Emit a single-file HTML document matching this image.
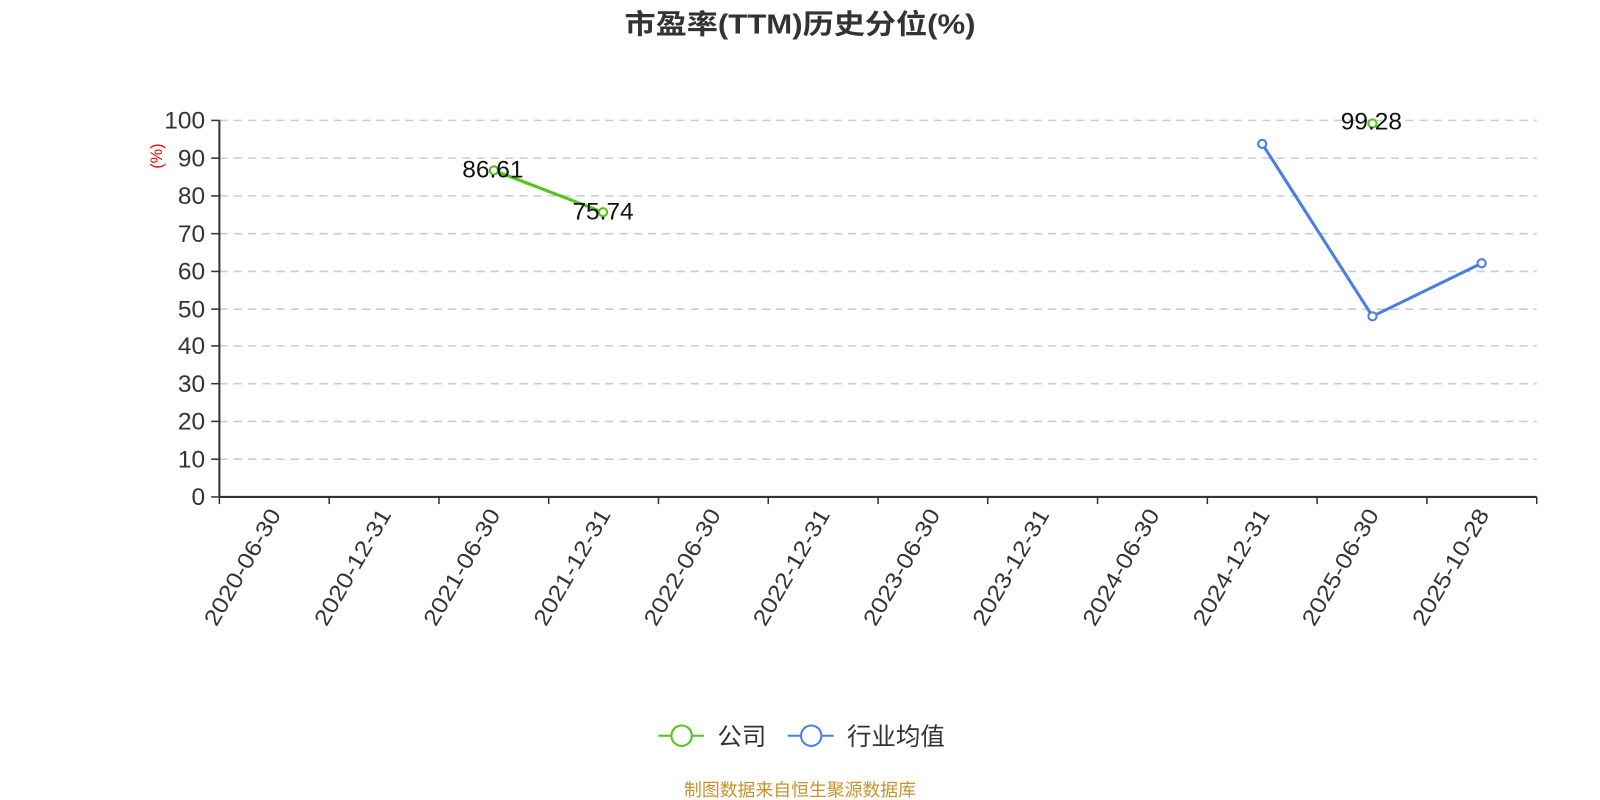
<!DOCTYPE html>
<html><head><meta charset="utf-8"><style>html,body{margin:0;padding:0;background:#fff;}svg{display:block;}</style></head>
<body>
<svg width="1600" height="800" viewBox="0 0 1568 784" xmlns="http://www.w3.org/2000/svg" font-family="'Liberation Sans','Noto Sans CJK SC',sans-serif">
<text x="784" y="33" text-anchor="middle" font-size="27" font-weight="bold" fill="#333" textLength="344" lengthAdjust="spacingAndGlyphs">市盈率(TTM)历史分位(%)</text>
<g stroke="#ccc" stroke-width="1.5" stroke-dasharray="8,6">
<line x1="215" x2="1506" y1="118" y2="118"/><line x1="215" x2="1506" y1="155" y2="155"/><line x1="215" x2="1506" y1="192" y2="192"/><line x1="215" x2="1506" y1="229" y2="229"/><line x1="215" x2="1506" y1="266" y2="266"/><line x1="215" x2="1506" y1="303" y2="303"/><line x1="215" x2="1506" y1="339" y2="339"/><line x1="215" x2="1506" y1="376" y2="376"/><line x1="215" x2="1506" y1="413" y2="413"/><line x1="215" x2="1506" y1="450" y2="450"/>
</g>
<g stroke="#333" stroke-width="2">
<line x1="215" y1="118" x2="215" y2="487"/>
<line x1="215" y1="487" x2="1506" y2="487"/>
</g>
<g stroke="#333" stroke-width="1.5">
<line x1="207" x2="215" y1="118" y2="118"/><line x1="207" x2="215" y1="155" y2="155"/><line x1="207" x2="215" y1="192" y2="192"/><line x1="207" x2="215" y1="229" y2="229"/><line x1="207" x2="215" y1="266" y2="266"/><line x1="207" x2="215" y1="303" y2="303"/><line x1="207" x2="215" y1="339" y2="339"/><line x1="207" x2="215" y1="376" y2="376"/><line x1="207" x2="215" y1="413" y2="413"/><line x1="207" x2="215" y1="450" y2="450"/><line x1="207" x2="215" y1="487" y2="487"/>
<line x1="215" x2="215" y1="487" y2="494"/><line x1="322.6" x2="322.6" y1="487" y2="494"/><line x1="430.2" x2="430.2" y1="487" y2="494"/><line x1="537.7" x2="537.7" y1="487" y2="494"/><line x1="645.3" x2="645.3" y1="487" y2="494"/><line x1="752.9" x2="752.9" y1="487" y2="494"/><line x1="860.5" x2="860.5" y1="487" y2="494"/><line x1="968" x2="968" y1="487" y2="494"/><line x1="1075.6" x2="1075.6" y1="487" y2="494"/><line x1="1183.2" x2="1183.2" y1="487" y2="494"/><line x1="1290.8" x2="1290.8" y1="487" y2="494"/><line x1="1398.4" x2="1398.4" y1="487" y2="494"/><line x1="1506" x2="1506" y1="487" y2="494"/>
</g>
<g font-size="24" fill="#333" text-anchor="end">
<text x="201" y="126">100</text><text x="201" y="163">90</text><text x="201" y="200">80</text><text x="201" y="237">70</text><text x="201" y="274">60</text><text x="201" y="311">50</text><text x="201" y="347">40</text><text x="201" y="384">30</text><text x="201" y="421">20</text><text x="201" y="458">10</text><text x="201" y="495">0</text>
</g>
<text transform="translate(159,153) rotate(-90)" text-anchor="middle" font-size="16" fill="#f00">(%)</text>
<g font-size="22" fill="#333" text-anchor="end">
<text transform="translate(276,504) rotate(-60)" textLength="128" lengthAdjust="spacingAndGlyphs">2020-06-30</text>
<text transform="translate(384,504) rotate(-60)" textLength="128" lengthAdjust="spacingAndGlyphs">2020-12-31</text>
<text transform="translate(491,504) rotate(-60)" textLength="128" lengthAdjust="spacingAndGlyphs">2021-06-30</text>
<text transform="translate(599,504) rotate(-60)" textLength="128" lengthAdjust="spacingAndGlyphs">2021-12-31</text>
<text transform="translate(707,504) rotate(-60)" textLength="128" lengthAdjust="spacingAndGlyphs">2022-06-30</text>
<text transform="translate(814,504) rotate(-60)" textLength="128" lengthAdjust="spacingAndGlyphs">2022-12-31</text>
<text transform="translate(922,504) rotate(-60)" textLength="128" lengthAdjust="spacingAndGlyphs">2023-06-30</text>
<text transform="translate(1029,504) rotate(-60)" textLength="128" lengthAdjust="spacingAndGlyphs">2023-12-31</text>
<text transform="translate(1137,504) rotate(-60)" textLength="128" lengthAdjust="spacingAndGlyphs">2024-06-30</text>
<text transform="translate(1245,504) rotate(-60)" textLength="128" lengthAdjust="spacingAndGlyphs">2024-12-31</text>
<text transform="translate(1352,504) rotate(-60)" textLength="128" lengthAdjust="spacingAndGlyphs">2025-06-30</text>
<text transform="translate(1460,504) rotate(-60)" textLength="128" lengthAdjust="spacingAndGlyphs">2025-10-28</text>
</g>
<polyline points="484,167 591,208" fill="none" stroke="#52c41a" stroke-width="3"/>
<polyline points="1237,141 1345,310 1452,258" fill="none" stroke="#4a7ee0" stroke-width="3"/>
<g fill="#fff" stroke-width="2">
<circle cx="484" cy="167" r="4" stroke="#52c41a"/><circle cx="591" cy="208" r="4" stroke="#52c41a"/><circle cx="1345" cy="121" r="4" stroke="#52c41a"/>
<circle cx="1237" cy="141" r="4" stroke="#4a7ee0"/><circle cx="1345" cy="310" r="4" stroke="#4a7ee0"/><circle cx="1452" cy="258" r="4" stroke="#4a7ee0"/>
</g>
<g font-size="24" fill="#111" text-anchor="middle">
<text x="483" y="174">86.61</text><text x="591" y="215">75.74</text><text x="1344" y="127">99.28</text>
</g>
<line x1="645" y1="721" x2="690" y2="721" stroke="#52c41a" stroke-width="2"/>
<circle cx="668" cy="721" r="10" fill="#fff" stroke="#52c41a" stroke-width="2"/>
<text x="703" y="730" font-size="24" fill="#333">公司</text>
<line x1="772" y1="721" x2="817" y2="721" stroke="#4a7ee0" stroke-width="2"/>
<circle cx="795" cy="721" r="10" fill="#fff" stroke="#4a7ee0" stroke-width="2"/>
<text x="830" y="730" font-size="24" fill="#333">行业均值</text>
<text x="784" y="780" text-anchor="middle" font-size="17.5" fill="#c8922a">制图数据来自恒生聚源数据库</text>
</svg>
</body></html>
